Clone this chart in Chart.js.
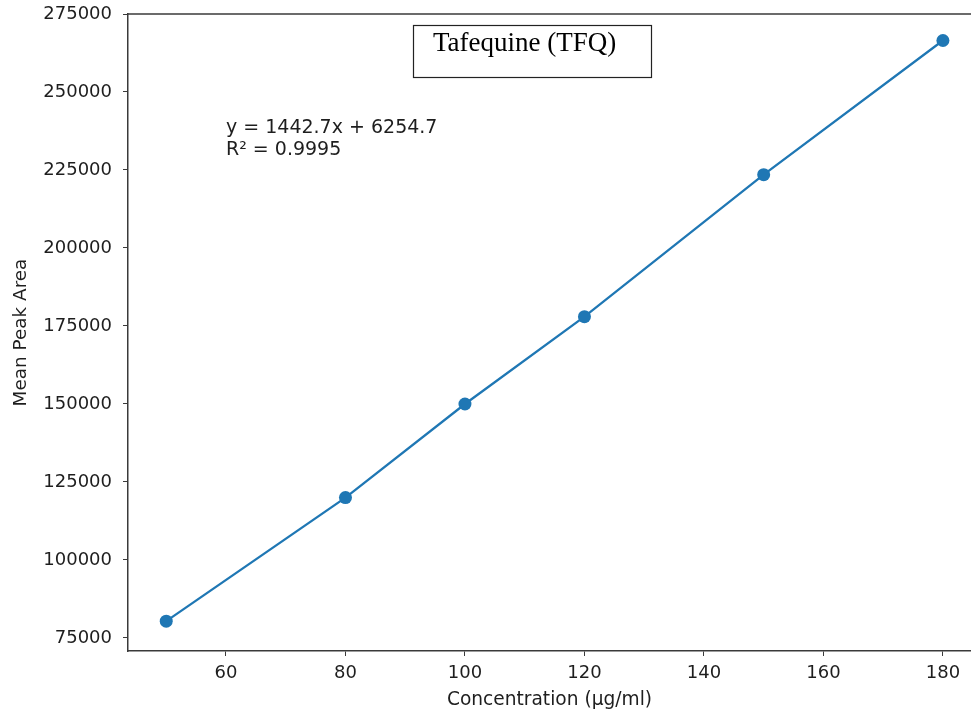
<!DOCTYPE html>
<html>
<head>
<meta charset="utf-8">
<script src="https://cdn.jsdelivr.net/npm/chart.js@4/dist/chart.umd.min.js"></script>
<style>
  html, body { margin: 0; padding: 0; background: #fff; overflow: hidden; }
</style>
</head>
<body>
<canvas id="myChart" width="971" height="711"></canvas>
<script>
// calibration data
const concentration = [50, 80, 100, 120, 150, 180];
const peakArea = [80400, 120000, 150000, 178000, 223500, 266500];

// tick labels
const xTicks = [60, 80, 100, 120, 140, 160, 180];
const yTicks = [75000, 100000, 125000, 150000, 175000, 200000, 225000, 250000, 275000];

const fitLines = ["y = 1442.7x + 6254.7", "R\u00b2 = 0.9995"];
const titleText = "Tafequine (TFQ)";

const blue = "#1f77b4";
const ink = "#1e1e1e";
const font = "'DejaVu Sans', sans-serif";

// top spine, regression text and the boxed title
const extras = {
  id: "extras",
  afterDraw(chart) {
    const { ctx, chartArea, scales } = chart;
    ctx.save();
    ctx.strokeStyle = "#3a3a3a";
    ctx.lineWidth = 1.5;
    ctx.beginPath();
    ctx.moveTo(chartArea.left, chartArea.top);
    ctx.lineTo(chartArea.right, chartArea.top);
    ctx.stroke();

    ctx.fillStyle = ink;
    ctx.font = "19px " + font;
    ctx.textBaseline = "middle";
    ctx.textAlign = "left";
    const tx = scales.x.getPixelForValue(60);
    const ty = scales.y.getPixelForValue(238500);
    fitLines.forEach((t, i) => ctx.fillText(t, tx, ty + i * 22));

    // title box
    ctx.fillStyle = "#fff";
    ctx.fillRect(413, 25, 239, 53);
    ctx.strokeStyle = "#222";
    ctx.lineWidth = 1.2;
    ctx.strokeRect(413.5, 25.5, 238, 52);
    ctx.fillStyle = "#000";
    ctx.font = "27px 'Liberation Serif', 'Times New Roman', serif";
    ctx.textBaseline = "alphabetic";
    ctx.fillText(titleText, 433, 51);
    ctx.restore();
  }
};

const data = {
  datasets: [
    {
      data: concentration.map((c, i) => ({ x: c, y: peakArea[i] })),
      borderColor: blue,
      backgroundColor: blue,
      borderWidth: 2.3,
      pointRadius: 6.5,
      pointBorderWidth: 0,
      pointBackgroundColor: blue,
      tension: 0,
    },
  ],
};

const config = {
  type: "line",
  data,
  options: {
    responsive: false,
    animation: false,
    layout: { autoPadding: false, padding: { top: 14, right: 0, left: 0, bottom: 0 } },
    plugins: { legend: { display: false }, tooltip: { enabled: false } },
    scales: {
      x: {
        type: "linear",
        min: 43.6,
        max: 184.7,
        afterBuildTicks: (s) => { s.ticks = xTicks.map((v) => ({ value: v })); },
        afterFit: (s) => { s.height = 60; s.paddingLeft = 0; s.paddingRight = 0; },
        border: { color: "#3a3a3a", width: 1.5 },
        grid: { drawOnChartArea: false, drawTicks: true, tickLength: 5, tickColor: "#3a3a3a" },
        ticks: { color: ink, font: { family: font, size: 18 }, padding: 7, maxRotation: 0 },
        title: {
          display: true,
          text: "Concentration (\u00b5g/ml)",
          color: ink,
          font: { family: font, size: 18.6 },
          padding: { top: 0, bottom: 0 },
        },
      },
      y: {
        min: 70833,
        max: 275000,
        afterBuildTicks: (s) => { s.ticks = yTicks.map((v) => ({ value: v })); },
        afterFit: (s) => { s.width = 128; s.paddingTop = 0; s.paddingBottom = 0; },
        border: { color: "#3a3a3a", width: 1.5 },
        grid: { drawOnChartArea: false, drawTicks: true, tickLength: 5, tickColor: "#3a3a3a" },
        ticks: { color: ink, font: { family: font, size: 18 }, padding: 11, callback: (v) => String(v) },
        title: {
          display: true,
          text: "Mean Peak Area",
          color: ink,
          font: { family: font, size: 18.4 },
          padding: { top: 10, bottom: 0 },
        },
      },
    },
  },
  plugins: [extras],
};

const myChart = new Chart(document.getElementById("myChart"), config);
</script>
</body>
</html>
